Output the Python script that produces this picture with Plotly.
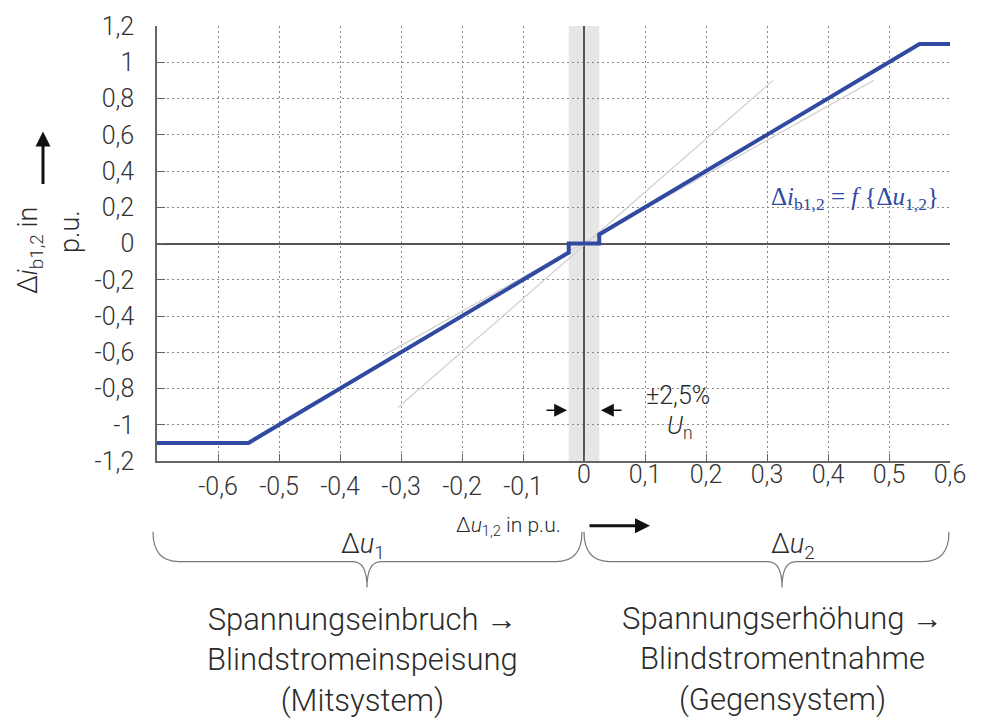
import plotly.graph_objects as go

# ---------------- data ----------------
u_curve = [-0.7, -0.55, -0.025, -0.025, 0.025, 0.025, 0.55, 0.6]
i_curve = [-1.1, -1.1, -0.05, 0.0, 0.0, 0.05, 1.1, 1.1]

u_steep = [-0.305, 0.31]
i_steep = [-0.905, 0.90]

u_flat = [-0.33, 0.475]
i_flat = [-0.62, 0.90]

band = 0.025  # ±2,5 % Un

x_range = [-0.7, 0.6]
x_pos_ticks = [0.0, 0.1, 0.2, 0.3, 0.4, 0.5, 0.6]
x_pos_labels = ["0", "0,1", "0,2", "0,3", "0,4", "0,5", "0,6"]
x_neg_ticks = [-0.6, -0.5, -0.4, -0.3, -0.2, -0.1]
x_neg_labels = ["-0,6", "-0,5", "-0,4", "-0,3", "-0,2", "-0,1"]
y_ticks = [-1.2, -1.0, -0.8, -0.6, -0.4, -0.2, 0.0, 0.2, 0.4, 0.6, 0.8, 1.0, 1.2]
y_labels = ["-1,2", "-1", "-0,8", "-0,6", "-0,4", "-0,2", "0", "0,2", "0,4", "0,6", "0,8", "1", "1,2"]

# ---------------- layout geometry ----------------
W, H = 1003, 720
L, R, T, B = 157, 950, 24, 461

def px(xp):
    return (xp - L) / (R - L)

def py(yp):
    return (B - yp) / (B - T)

FONT = "Roboto, 'Liberation Sans', Arial, sans-serif"
TXT = "#2b2b2b"
BLUE = "#3049a1"
GRID = dict(showgrid=True, gridcolor="#8a8a8a", griddash="2px,3px", gridwidth=1)
TICKS = dict(ticks="inside", ticklen=7, tickcolor="#666666", tickwidth=1.2)

fig = go.Figure()

fig.add_trace(go.Scatter(x=u_steep, y=i_steep, mode="lines",
                         line=dict(color="#d2d2d2", width=1.3), hoverinfo="skip"))
fig.add_trace(go.Scatter(x=u_flat, y=i_flat, mode="lines",
                         line=dict(color="#d2d2d2", width=1.3), hoverinfo="skip"))
fig.add_trace(go.Scatter(x=u_curve, y=i_curve, mode="lines",
                         line=dict(color=BLUE, width=4), hoverinfo="skip"))
# invisible trace carrying the second x axis (negative side ticks/grid/labels)
fig.add_trace(go.Scatter(x=x_range, y=[0, 0], xaxis="x2", mode="lines",
                         line=dict(width=0), opacity=0, hoverinfo="skip"))

shapes = [
    dict(type="rect", xref="x", yref="paper", x0=-band, x1=band, y0=0, y1=1,
         fillcolor="#e6e6e6", line=dict(width=0), layer="below"),
]

def brace(x0, x1, xm, ytop=532, yh=562, ytip=588, r=26, r2=14):
    pts = [
        f"M {px(x0)},{py(ytop)}",
        f"Q {px(x0)},{py(yh)} {px(x0 + r)},{py(yh)}",
        f"L {px(xm - r2)},{py(yh)}",
        f"Q {px(xm)},{py(yh)} {px(xm)},{py(ytip)}",
        f"Q {px(xm)},{py(yh)} {px(xm + r2)},{py(yh)}",
        f"L {px(x1 - r)},{py(yh)}",
        f"Q {px(x1)},{py(yh)} {px(x1)},{py(ytop)}",
    ]
    return dict(type="path", xref="paper", yref="paper", path=" ".join(pts),
                line=dict(color="#7a7a7a", width=1.2))

shapes.append(brace(153, 582, 367))
shapes.append(brace(584, 949, 782))

ann = []

def text(xp, yp, s, size, color=TXT, family=FONT, **kw):
    ann.append(dict(xref="paper", yref="paper", x=px(xp), y=py(yp), text=s,
                    showarrow=False, xanchor="center", yanchor="middle",
                    font=dict(family=family, size=size, color=color, weight=300), **kw))

def arrow(xp, yp, axp, ayp, width=1.5, head=2, size=1.0, color="#111111"):
    ann.append(dict(xref="paper", yref="paper", x=px(xp), y=py(yp), text="",
                    showarrow=True, ax=axp - xp, ay=ayp - yp, axref="pixel", ayref="pixel",
                    arrowhead=head, arrowsize=size, arrowwidth=width, arrowcolor=color))

# y axis title (rotated, two lines) and up arrow
text(30, 250, "Δ<i>i</i><sub>b1,2</sub> in", 27, textangle=-90)
text(70, 231, "p.u.", 27, textangle=-90)
arrow(43, 130, 43, 184, width=3, size=1.0)

# x axis title and arrow
text(508, 527, "Δ<i>u</i><sub>1,2</sub> in p.u.", 21)
arrow(650, 526, 588, 526, width=3, size=1.0)

# brace labels
text(363, 546, "Δ<i>u</i><sub>1</sub>", 27)
text(793, 546, "Δ<i>u</i><sub>2</sub>", 27)

# bottom descriptions
text(362, 661, "Spannungseinbruch →<br>Blindstromeinspeisung<br>(Mitsystem)", 31)
text(782, 660, "Spannungserhöhung →<br>Blindstromentnahme<br>(Gegensystem)", 31)

# ±2,5 % band annotation
text(678, 395, "±2,5%", 25)
text(680, 427, "<i>U</i><sub>n</sub>", 25)
arrow(567, 410, 545, 410, width=1.6, size=1.6)
arrow(601, 410, 623, 410, width=1.6, size=1.6)

# function label
text(855, 197, "Δ<i>i</i><sub>b1,2</sub> = <i>f</i> {Δ<i>u</i><sub>1,2</sub>}", 25, color=BLUE,
     family="'Liberation Serif', 'DejaVu Serif', serif")

tickfont = dict(family=FONT, size=25, color="#333333", weight=300)

fig.update_layout(
    width=W, height=H,
    margin=dict(l=L, r=W - R, t=T, b=H - B, pad=0),
    paper_bgcolor="white", plot_bgcolor="white",
    showlegend=False,
    shapes=shapes,
    annotations=ann,
    xaxis=dict(range=x_range, tickmode="array", tickvals=x_pos_ticks,
               ticktext=x_pos_labels, **GRID, **TICKS, zeroline=True,
               zerolinecolor="#555555", zerolinewidth=1.5, showline=True,
               linecolor="#666666", linewidth=1.5,
               tickfont=tickfont, ticklabelstandoff=-10, fixedrange=True),
    xaxis2=dict(range=x_range, overlaying="x", anchor="y", side="bottom",
                tickmode="array", tickvals=x_neg_ticks, ticktext=x_neg_labels,
                **GRID, **TICKS, zeroline=False, showline=False,
                tickfont=tickfont, ticklabelstandoff=8, fixedrange=True),
    yaxis=dict(range=[y_ticks[0], y_ticks[-1]], tickmode="array", tickvals=y_ticks,
               ticktext=y_labels, **GRID, zeroline=True, zerolinecolor="#555555",
               zerolinewidth=1.5, showline=True, linecolor="#666666", linewidth=1.5,
               ticks="inside", ticklen=8, tickcolor="#666666", tickwidth=1.2,
               tickfont=tickfont, ticklabelstandoff=16, fixedrange=True),
)

fig.write_html("out.html")
